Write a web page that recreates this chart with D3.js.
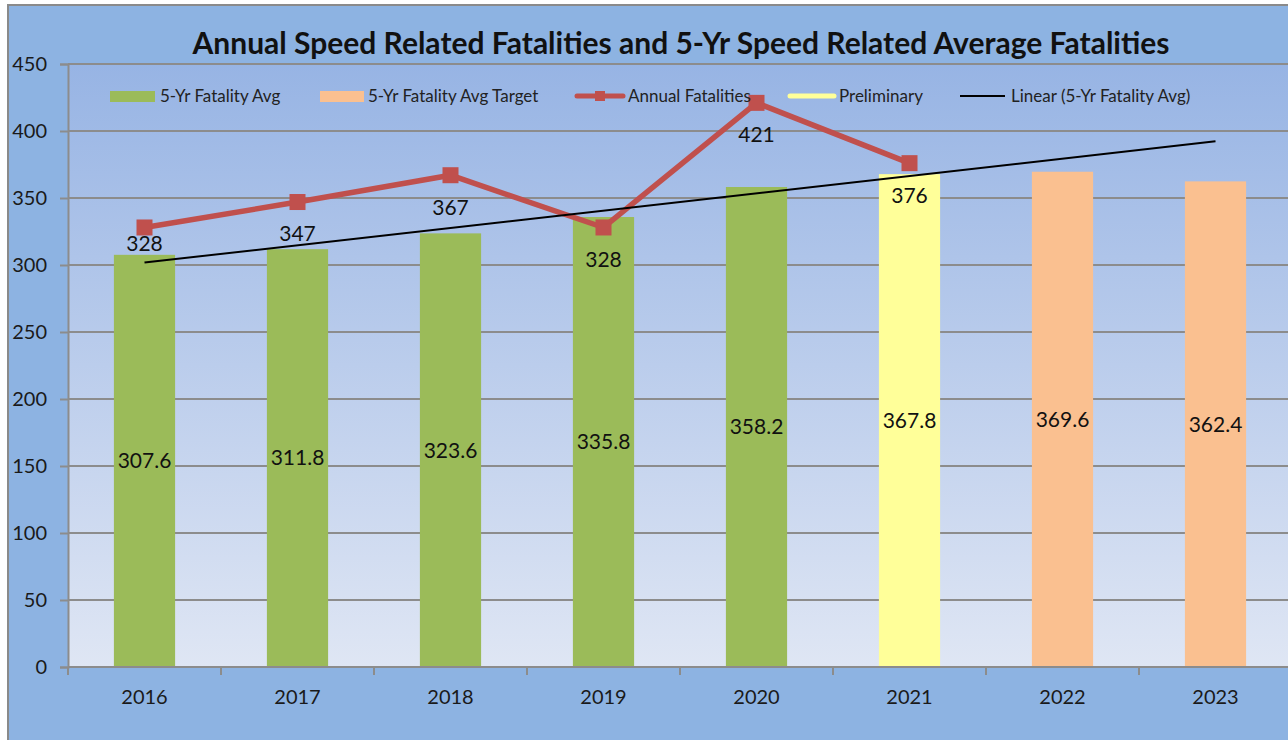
<!DOCTYPE html>
<html>
<head>
<meta charset="utf-8">
<script src="https://cdn.jsdelivr.net/npm/d3@7"></script>
<style>
  body { margin: 0; background: #fff; }
  svg { display: block; font-family: Lato, "Liberation Sans", sans-serif; }
</style>
</head>
<body>
<svg width="1288" height="740"></svg>
<script>
// chart data
var years = ["2016", "2017", "2018", "2019", "2020", "2021", "2022", "2023"];
var avgValues = [307.6, 311.8, 323.6, 335.8, 358.2, 367.8, 369.6, 362.4];
var barKinds = ["avg", "avg", "avg", "avg", "avg", "prelim", "target", "target"];
var annualYears = ["2016", "2017", "2018", "2019", "2020", "2021"];
var annualValues = [328, 347, 367, 328, 421, 376];
var yTicks = [0, 50, 100, 150, 200, 250, 300, 350, 400, 450];

var colors = {avg: "#9bbb59", target: "#fac090", prelim: "#ffff99", annual: "#c0504d", trend: "#000"};

var svg = d3.select("svg"),
    plotLeft = 68, plotTop = 64, plotBottom = 667, plotRight = 1292;

// outer frame
svg.append("rect")
    .attr("x", 8).attr("y", 5)
    .attr("width", 1300).attr("height", 760)
    .attr("fill", "#8db3e2")
    .attr("stroke", "#8a8a8a")
    .attr("stroke-width", 2);

var defs = svg.append("defs");
var grad = defs.append("linearGradient")
    .attr("id", "plotbg").attr("x1", 0).attr("y1", 0).attr("x2", 0).attr("y2", 1);
grad.append("stop").attr("offset", "0%").attr("stop-color", "#97b4e4");
grad.append("stop").attr("offset", "100%").attr("stop-color", "#dfe6f4");

svg.append("rect")
    .attr("x", plotLeft).attr("y", plotTop)
    .attr("width", plotRight - plotLeft).attr("height", plotBottom - plotTop)
    .attr("fill", "url(#plotbg)");

var x = d3.scaleBand().domain(years).range([plotLeft, plotRight]).paddingInner(0.6).paddingOuter(0.3),
    y = d3.scaleLinear().domain([0, 450]).range([plotBottom, plotTop]);

var half = x.bandwidth() / 2,
    step = x.step();

// gridlines
svg.append("g").selectAll("line")
  .data(yTicks.filter(function(d) { return d > 0; }))
  .enter().append("line")
    .attr("x1", plotLeft).attr("x2", plotRight)
    .attr("y1", function(d) { return y(d); })
    .attr("y2", function(d) { return y(d); })
    .attr("stroke", "#8c8c8c")
    .attr("stroke-width", 2);

// y axis
var yAxis = svg.append("g")
    .attr("transform", "translate(" + plotLeft + ",0)")
    .call(d3.axisLeft(y).tickValues(yTicks).tickSize(8).tickPadding(13));
yAxis.select(".domain").attr("stroke", "#8c8c8c").attr("stroke-width", 2);
yAxis.selectAll(".tick line").attr("stroke", "#8c8c8c").attr("stroke-width", 2);
yAxis.selectAll(".tick text")
    .attr("fill", "#1a1a1a")
    .style("font-size", "20px")
    .style("font-family", "Lato, sans-serif");

// bars
svg.append("g").selectAll("rect")
  .data(years)
  .enter().append("rect")
    .attr("x", function(d) { return x(d); })
    .attr("width", x.bandwidth())
    .attr("y", function(d, i) { return y(avgValues[i]); })
    .attr("height", function(d, i) { return plotBottom - y(avgValues[i]); })
    .attr("fill", function(d, i) { return colors[barKinds[i]]; });

// x axis
svg.append("line")
    .attr("x1", plotLeft).attr("x2", plotRight)
    .attr("y1", plotBottom).attr("y2", plotBottom)
    .attr("stroke", "#8c8c8c").attr("stroke-width", 2);

svg.append("g").selectAll("line")
  .data(years)
  .enter().append("line")
    .attr("x1", function(d) { return x(d) + half - step / 2; })
    .attr("x2", function(d) { return x(d) + half - step / 2; })
    .attr("y1", plotBottom).attr("y2", plotBottom + 8)
    .attr("stroke", "#8c8c8c").attr("stroke-width", 2);

svg.append("g").selectAll("text")
  .data(years)
  .enter().append("text")
    .attr("x", function(d) { return x(d) + half; })
    .attr("y", 704)
    .attr("text-anchor", "middle")
    .attr("fill", "#1a1a1a")
    .style("font-size", "20px")
    .text(function(d) { return d; });

// annual line
var line = d3.line()
    .x(function(d, i) { return x(annualYears[i]) + half; })
    .y(function(d) { return y(d); });

svg.append("path")
    .datum(annualValues)
    .attr("d", line)
    .attr("fill", "none")
    .attr("stroke", colors.annual)
    .attr("stroke-width", 5.5)
    .attr("stroke-linejoin", "round");

svg.append("g").selectAll("rect")
  .data(annualValues)
  .enter().append("rect")
    .attr("x", function(d, i) { return x(annualYears[i]) + half - 8; })
    .attr("y", function(d) { return y(d) - 8; })
    .attr("width", 16).attr("height", 16)
    .attr("fill", colors.annual);

// linear trend of the 5-yr avg (fit on actual + preliminary years, forecast forward)
var fitIdx = d3.range(years.length).filter(function(i) { return barKinds[i] !== "target"; });
var mx = d3.mean(fitIdx), my = d3.mean(fitIdx, function(i) { return avgValues[i]; });
var slope = d3.sum(fitIdx, function(i) { return (i - mx) * (avgValues[i] - my); }) /
            d3.sum(fitIdx, function(i) { return (i - mx) * (i - mx); });
var trend = years.map(function(d, i) { return my + slope * (i - mx); });

svg.append("line")
    .attr("x1", x(years[0]) + half)
    .attr("y1", y(trend[0]))
    .attr("x2", x(years[years.length - 1]) + half)
    .attr("y2", y(trend[trend.length - 1]))
    .attr("stroke", colors.trend)
    .attr("stroke-width", 2);

// bar labels
svg.append("g").selectAll("text")
  .data(years)
  .enter().append("text")
    .attr("x", function(d) { return x(d) + half; })
    .attr("y", function(d, i) { return (y(avgValues[i]) + plotBottom) / 2; })
    .attr("dy", "0.35em")
    .attr("text-anchor", "middle")
    .attr("fill", "#111")
    .style("font-size", "21px")
    .text(function(d, i) { return avgValues[i]; });

// annual labels
svg.append("g").selectAll("text")
  .data(annualValues)
  .enter().append("text")
    .attr("x", function(d, i) { return x(annualYears[i]) + half; })
    .attr("y", function(d, i) { return y(d) + (i === 0 ? 16 : 32); })
    .attr("dy", "0.35em")
    .attr("text-anchor", "middle")
    .attr("fill", "#111")
    .style("font-size", "21px")
    .text(function(d) { return d; });

// legend
var legend = svg.append("g").style("font-size", "17px").attr("fill", "#222");
var ly = 96;

legend.append("rect").attr("x", 110).attr("y", ly - 5).attr("width", 45).attr("height", 11).attr("fill", colors.avg);
legend.append("text").attr("x", 160).attr("y", ly).attr("dy", "0.35em").text("5-Yr Fatality Avg");

legend.append("rect").attr("x", 320).attr("y", ly - 5).attr("width", 44).attr("height", 11).attr("fill", colors.target);
legend.append("text").attr("x", 368).attr("y", ly).attr("dy", "0.35em").text("5-Yr Fatality Avg Target");

legend.append("line").attr("x1", 577).attr("x2", 623).attr("y1", ly).attr("y2", ly)
    .attr("stroke", colors.annual).attr("stroke-width", 5).attr("stroke-linecap", "round");
legend.append("rect").attr("x", 595).attr("y", ly - 5).attr("width", 10).attr("height", 10).attr("fill", colors.annual);
legend.append("text").attr("x", 628).attr("y", ly).attr("dy", "0.35em").text("Annual Fatalities");

legend.append("line").attr("x1", 790).attr("x2", 834).attr("y1", ly).attr("y2", ly)
    .attr("stroke", colors.prelim).attr("stroke-width", 5).attr("stroke-linecap", "round");
legend.append("text").attr("x", 839).attr("y", ly).attr("dy", "0.35em").text("Preliminary");

legend.append("line").attr("x1", 960).attr("x2", 1005).attr("y1", ly).attr("y2", ly)
    .attr("stroke", colors.trend).attr("stroke-width", 2);
legend.append("text").attr("x", 1011).attr("y", ly).attr("dy", "0.35em").text("Linear (5-Yr Fatality Avg)");

// title
svg.append("text")
    .attr("x", 681)
    .attr("y", 54)
    .attr("text-anchor", "middle")
    .attr("fill", "#111")
    .style("font-size", "30px")
    .style("font-weight", "bold")
    .text("Annual Speed Related Fatalities and 5-Yr Speed Related Average Fatalities");
</script>
</body>
</html>
